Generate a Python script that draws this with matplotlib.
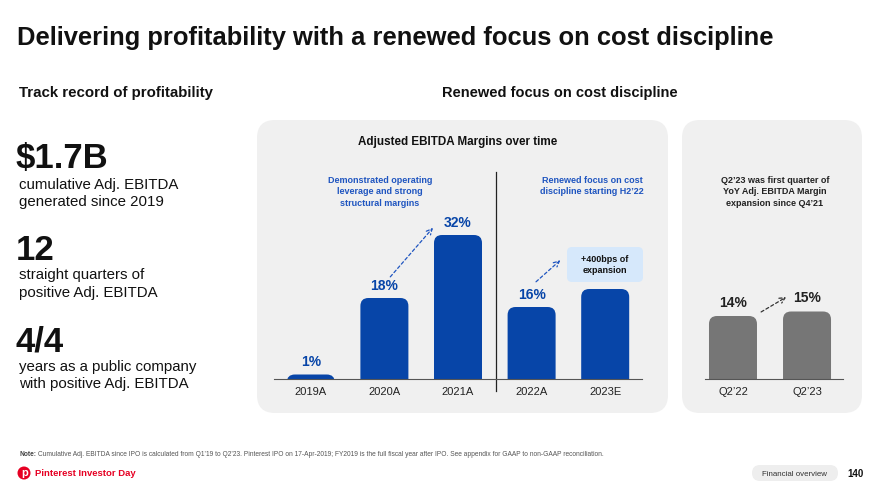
import matplotlib
matplotlib.use("Agg")
import matplotlib.pyplot as plt
from matplotlib.patches import FancyBboxPatch, Circle

W, H = 880, 495

# ---- data -------------------------------------------------------------
YEARS = ["2019A", "2020A", "2021A", "2022A", "2023E"]
YEAR_MARGIN = [1, 18, 32, 16, 20]
YEAR_LABELS = ["1%", "18%", "32%", "16%", ""]

QUARTERS = ["Q2\u201922", "Q2\u201923"]
QUARTER_MARGIN = [14, 15]
QUARTER_LABELS = ["14%", "15%"]

KPI_BIG = ["$1.7B", "12", "4/4"]
KPI_TEXT = [["cumulative Adj. EBITDA", "generated since 2019"],
            ["straight quarters of", "positive Adj. EBITDA"],
            ["years as a public company", "with positive Adj. EBITDA"]]

TITLE = "Delivering profitability with a renewed focus on cost discipline"
NOTE = ("Cumulative Adj. EBITDA since IPO is calculated from Q1\u201919 to Q2\u201923. "
        "Pinterest IPO on 17-Apr-2019; FY2019 is the full fiscal year after IPO. "
        "See appendix for GAAP to non-GAAP reconciliation.")

BLUE = "#0745A8"
TXT_BLUE = "#1F55C0"
GREY_BAR = "#767676"
PANEL = "#F0F0F0"
RED = "#E60023"
PX_PER_PCT = 4.5

plt.rcParams["font.family"] = ["Liberation Sans", "DejaVu Sans"]


def px_axes(fig, left, top, right, bottom):
    return fig.add_axes([left / W, 1 - bottom / H, (right - left) / W, (bottom - top) / H])


def rounded_bars(ax, labels, values, color, width_px=48, radius_px=8):
    """Bars with rounded tops; drawn as ax.bar then swapped for round boxes."""
    x = list(range(len(values)))
    bars = ax.bar(x, values, width=0.65, color=color)
    bb = ax.get_window_extent()
    x0, x1 = ax.get_xlim()
    y0, y1 = ax.get_ylim()
    px_x = bb.width / (x1 - x0)
    px_y = bb.height / (y1 - y0)
    w = width_px / px_x
    r = radius_px / px_x
    aspect = px_x / px_y
    below = 5
    for b, v in zip(bars, values):
        b.set_visible(False)
        cx = b.get_x() + b.get_width() / 2
        ax.add_patch(FancyBboxPatch((cx - w / 2, -below), w, v + below,
                                    boxstyle=f"round,pad=0,rounding_size={r}",
                                    mutation_aspect=aspect, fc=color, ec="none", zorder=2))
    ax.set_xticks(x, labels)
    return bars


def style_axes(ax):
    ax.patch.set_alpha(0)
    for s in ["top", "right", "left"]:
        ax.spines[s].set_visible(False)
    ax.spines["bottom"].set_color("#555555")
    ax.spines["bottom"].set_linewidth(0.8)
    ax.set_yticks([])
    ax.tick_params(axis="x", length=0, pad=6, labelsize=8, labelcolor="#222222")


fig = plt.figure(figsize=(W / 100, H / 100), dpi=100)

# full-figure pixel canvas for panels and free text
bg = fig.add_axes([0, 0, 1, 1])
bg.set_xlim(0, W)
bg.set_ylim(H, 0)
bg.axis("off")

for (l, t, r_, b_) in [(257, 120, 668, 413), (682, 120, 862, 413)]:
    bg.add_patch(FancyBboxPatch((l, t), r_ - l, b_ - t,
                                boxstyle="round,pad=0,rounding_size=18",
                                fc=PANEL, ec="none"))

bg.text(17, 45, TITLE, fontsize=18.4, fontweight="bold",
        color="#111111", va="baseline")
bg.text(19, 97, "Track record of profitability", fontsize=10.8, fontweight="bold",
        color="#111111", va="baseline")
bg.text(442, 97, "Renewed focus on cost discipline", fontsize=10.5, fontweight="bold",
        color="#111111", va="baseline")

big_base = [168, 260, 352]
sub_base = [(189, 206), (279, 297), (371, 388)]
for big, lines, yb, (s1, s2) in zip(KPI_BIG, KPI_TEXT, big_base, sub_base):
    bg.text(16, yb, big, fontsize=25, fontweight="bold", color="#111111", va="baseline")
    bg.text(19, s1, lines[0], fontsize=10.8, color="#111111", va="baseline")
    bg.text(19, s2, lines[1], fontsize=10.8, color="#111111", va="baseline")

bg.text(458, 145, "Adjusted EBITDA Margins over time", fontsize=8.4, fontweight="bold",
        color="#111111", ha="center", va="baseline")
bg.text(380, 192, "Demonstrated operating\nleverage and strong\nstructural margins",
        fontsize=6.5, fontweight="bold", color=TXT_BLUE, ha="center", va="center",
        linespacing=1.3)
bg.text(592, 186, "Renewed focus on cost\ndiscipline starting H2\u201922",
        fontsize=6.5, fontweight="bold", color=TXT_BLUE, ha="center", va="center",
        linespacing=1.3)
bg.add_patch(FancyBboxPatch((567, 247), 76, 35, boxstyle="round,pad=0,rounding_size=5",
                            fc="#D6E8FB", ec="none", zorder=1))
bg.text(605, 265, "+400bps of\nexpansion", fontsize=6.5, fontweight="bold",
        color="#111111", ha="center", va="center", linespacing=1.3)
bg.text(775, 192, "Q2\u201923 was first quarter of\nYoY Adj. EBITDA Margin\nexpansion since Q4\u201921",
        fontsize=6.5, fontweight="bold", color="#222222", ha="center", va="center",
        linespacing=1.3)

# footer
note = bg.text(19, 455, "Note:", fontsize=4.75, fontweight="bold",
               color="#444444", va="center")
bg.annotate(" " + NOTE, xy=(1, 0), xycoords=note, fontsize=4.75,
            color="#555555", ha="left", va="bottom")
bg.add_patch(Circle((24, 473), 6.5, fc=RED, ec="none"))
bg.text(24.3, 473.5, "p", fontsize=8, fontweight="bold", color="white",
        ha="center", va="center")
bg.text(35, 473, "Pinterest Investor Day", fontsize=6.8, fontweight="bold",
        color=RED, va="center")
bg.add_patch(FancyBboxPatch((752, 465), 86, 16, boxstyle="round,pad=0,rounding_size=8",
                            fc="#EEEEEE", ec="none"))
bg.text(795, 474, "Financial overview", fontsize=5.7,
        color="#333333", ha="center", va="center")
bg.text(855, 474, "140", fontsize=7, fontweight="bold", color="#111111",
        ha="center", va="center")

# ---- yearly margins --------------------------------------------------
ax = px_axes(fig, 274, 160, 642, 379)
ax.set_xlim(-0.5, len(YEARS) - 0.5)
ax.set_ylim(0, 219 / PX_PER_PCT)
style_axes(ax)
rounded_bars(ax, YEARS, YEAR_MARGIN, BLUE)
for i, (v, lab) in enumerate(zip(YEAR_MARGIN, YEAR_LABELS)):
    if lab:
        ax.annotate(lab, (i, v), xytext=(0, 12), textcoords="offset pixels",
                    ha="center", va="center", fontsize=10, fontweight="bold",
                    color=BLUE)
ax.plot([2.52, 2.52], [-2.7, 46], color="#222222", lw=0.9, clip_on=False)
dash = dict(arrowstyle="->", linestyle=(0, (2.5, 2)), lw=0.9, color=TXT_BLUE,
            shrinkA=0, shrinkB=0)
ax.annotate("", xy=(1.66, 33.6), xytext=(1.08, 22.7), arrowprops=dash)
ax.annotate("", xy=(3.39, 26.4), xytext=(3.06, 21.6), arrowprops=dash)

# ---- quarterly margins -----------------------------------------------
ax2 = px_axes(fig, 705, 160, 843, 379)
ax2.set_xlim(-0.378, 1.486)
ax2.set_ylim(0, 219 / PX_PER_PCT)
style_axes(ax2)
rounded_bars(ax2, QUARTERS, QUARTER_MARGIN, GREY_BAR)
for i, (v, lab) in enumerate(zip(QUARTER_MARGIN, QUARTER_LABELS)):
    ax2.annotate(lab, (i, v), xytext=(0, 13), textcoords="offset pixels",
                 ha="center", va="center", fontsize=10, fontweight="bold",
                 color="#222222")
ax2.annotate("", xy=(0.72, 18.2), xytext=(0.38, 14.9),
             arrowprops=dict(dash, color="#333333"))

fig.savefig("out.png", dpi=100)
